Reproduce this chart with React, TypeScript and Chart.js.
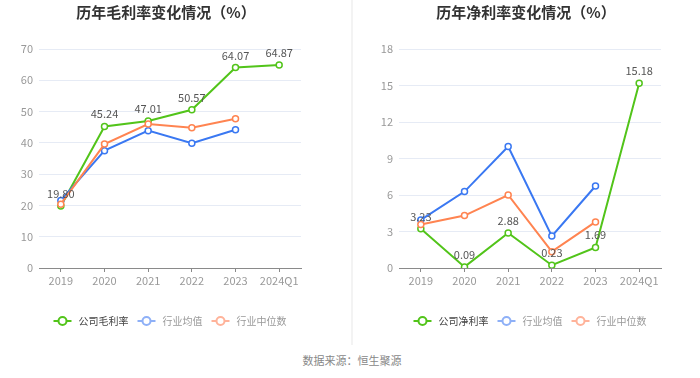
import React, { useEffect, useRef } from "react";
import { Chart, registerables } from "chart.js";

Chart.register(...registerables);

const categories = ["2019", "2020", "2021", "2022", "2023", "2024Q1"];

const grossTitle = "历年毛利率变化情况（%）";
const grossLabels = ["公司毛利率", "行业均值", "行业中位数"];
const grossCompany = [19.8, 45.24, 47.01, 50.57, 64.07, 64.87];
const grossIndustryAvg = [21.6, 37.5, 43.9, 39.9, 44.2, null];
const grossIndustryMedian = [20.4, 39.6, 46.0, 44.8, 47.7, null];
const grossTicks = { min: 0, max: 70, step: 10 };

const netTitle = "历年净利率变化情况（%）";
const netLabels = ["公司净利率", "行业均值", "行业中位数"];
const netCompany = [3.23, 0.09, 2.88, 0.23, 1.69, 15.18];
const netIndustryAvg = [3.95, 6.28, 9.98, 2.62, 6.74, null];
const netIndustryMedian = [3.57, 4.31, 6.0, 1.34, 3.79, null];
const netTicks = { min: 0, max: 18, step: 3 };

const sourceText = "数据来源：恒生聚源";

const FONT = "'Noto Sans CJK SC', 'Noto Sans', sans-serif";
const COLORS = ["#52c41a", "#3a78f2", "#ff8451"];
const LEGEND_COLORS = ["#52c41a", "#8eb0f7", "#ffb39a"];
const LEGEND_TEXT = ["#444", "#999", "#999"];

function makeConfig(
  title: string,
  labels: string[],
  series: (number | null)[][],
  ticks: { min: number; max: number; step: number },
  padLeft: number,
  padRight: number
): any {
  const titlePlugin = {
    id: "titleDraw",
    afterDraw(chart: any) {
      const { ctx, chartArea } = chart;
      ctx.save();
      ctx.font = `bold 15px ${FONT}`;
      ctx.fillStyle = "#333";
      ctx.textAlign = "center";
      ctx.textBaseline = "middle";
      ctx.fillText(title, (chartArea.left + chartArea.right) / 2 - 4, 12);
      ctx.restore();
    },
  };
  const labelPlugin = {
    id: "valueLabels",
    afterDatasetsDraw(chart: any) {
      const { ctx } = chart;
      const meta = chart.getDatasetMeta(0);
      const data = chart.data.datasets[0].data;
      ctx.save();
      ctx.font = `11px ${FONT}`;
      ctx.fillStyle = "#555";
      ctx.textAlign = "center";
      ctx.textBaseline = "alphabetic";
      meta.data.forEach((pt: any, i: number) => {
        const v = data[i];
        if (v == null) return;
        ctx.fillText(Number(v).toFixed(2), pt.x, pt.y - 8);
      });
      ctx.restore();
    },
  };
  const legendPlugin = {
    id: "legendDraw",
    afterDraw(chart: any) {
      const { ctx, chartArea } = chart;
      ctx.save();
      ctx.font = `10px ${FONT}`;
      const markerW = 18;
      const gapText = 7;
      const gapItem = 9;
      const widths = labels.map((l) => ctx.measureText(l).width);
      const total =
        widths.reduce((a, w) => a + markerW + gapText + w, 0) + gapItem * (labels.length - 1);
      let x = (chartArea.left + chartArea.right) / 2 - total / 2;
      const y = 321;
      labels.forEach((l, i) => {
        ctx.strokeStyle = LEGEND_COLORS[i];
        ctx.lineWidth = 2;
        ctx.beginPath();
        ctx.moveTo(x, y);
        ctx.lineTo(x + markerW, y);
        ctx.stroke();
        ctx.beginPath();
        ctx.arc(x + markerW / 2, y, 4, 0, Math.PI * 2);
        ctx.fillStyle = "#fff";
        ctx.fill();
        ctx.stroke();
        x += markerW + gapText;
        ctx.fillStyle = LEGEND_TEXT[i];
        ctx.textAlign = "left";
        ctx.textBaseline = "middle";
        ctx.fillText(l, x, y);
        x += widths[i] + gapItem;
      });
      ctx.restore();
    },
  };

  return {
    type: "line",
    data: {
      labels: categories,
      datasets: series.map((d, i) => ({
        label: labels[i],
        data: d,
        borderColor: COLORS[i],
        backgroundColor: "#fff",
        pointBackgroundColor: "#fff",
        pointBorderColor: COLORS[i],
        pointRadius: 3,
        pointBorderWidth: 1.5,
        borderWidth: 2,
        tension: 0,
        order: 3 - i,
      })),
    },
    options: {
      responsive: false,
      animation: false,
      layout: { padding: { top: 49, bottom: 47, left: padLeft, right: padRight } },
      plugins: {
        legend: { display: false },
        title: { display: false },
        tooltip: { enabled: false },
      },
      scales: {
        x: {
          type: "category",
          offset: true,
          grid: {
            display: true,
            drawOnChartArea: false,
            drawTicks: true,
            tickLength: 4,
            offset: false,
            color: "#8a8a8a",
          },
          border: { display: true, color: "#8a8a8a", width: 1 },
          ticks: {
            padding: 2,
            color: "#999",
            font: { family: FONT, size: 11 },
            maxRotation: 0,
            autoSkip: false,
          },
          afterFit(s: any) {
            s.height = 30;
          },
        },
        y: {
          min: ticks.min,
          max: ticks.max,
          ticks: {
            stepSize: ticks.step,
            padding: 6,
            color: "#999",
            font: { family: FONT, size: 11 },
          },
          grid: { color: "#e6ebf5", drawTicks: false, lineWidth: 1 },
          border: { display: false },
          afterFit(s: any) {
            s.width = 39;
          },
        },
      },
    },
    plugins: [titlePlugin, labelPlugin, legendPlugin],
  };
}

function LineChart(props: { config: any; left: number }) {
  const ref = useRef<HTMLCanvasElement | null>(null);
  useEffect(() => {
    if (!ref.current) return;
    const chart = new Chart(ref.current, props.config);
    return () => chart.destroy();
  }, []);
  return (
    <canvas
      ref={ref}
      width={350}
      height={345}
      style={{ position: "absolute", left: props.left, top: 0, width: 350, height: 345 }}
    />
  );
}

export default function App() {
  const grossCfg = makeConfig(
    grossTitle,
    grossLabels,
    [grossCompany, grossIndustryAvg, grossIndustryMedian],
    grossTicks,
    0,
    49
  );
  const netCfg = makeConfig(
    netTitle,
    netLabels,
    [netCompany, netIndustryAvg, netIndustryMedian],
    netTicks,
    10,
    39
  );
  return (
    <div
      style={{
        position: "fixed",
        left: 0,
        top: 0,
        width: 700,
        height: 378,
        background: "#fff",
        overflow: "hidden",
      }}
    >
      <LineChart config={grossCfg} left={0} />
      <LineChart config={netCfg} left={350} />
      <div
        style={{
          position: "absolute",
          left: 351,
          top: 0,
          width: 2,
          height: 345,
          background: "#f3f3f3",
        }}
      />
      <div
        style={{
          position: "absolute",
          left: 0,
          top: 351,
          width: 704,
          textAlign: "center",
          fontFamily: FONT,
          fontSize: 11,
          color: "#888",
          lineHeight: "18px",
        }}
      >
        {sourceText}
      </div>
    </div>
  );
}
